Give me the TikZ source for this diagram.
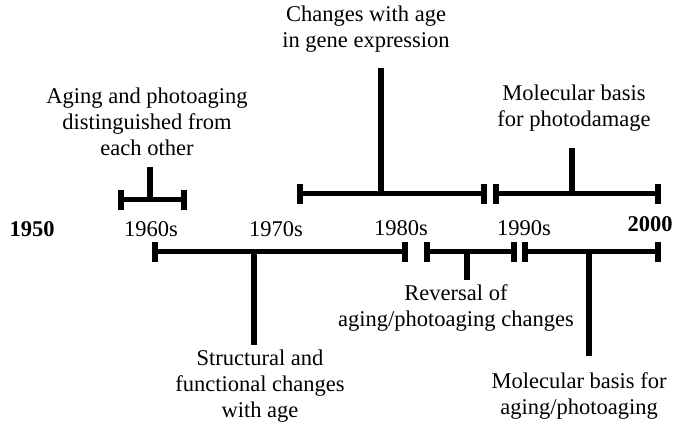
\documentclass[tikz,border=0pt]{standalone}
\usepackage{fontspec}
\setmainfont{Liberation Serif}
\begin{document}
\begin{tikzpicture}[x=1pt,y=-1pt,
  lbl/.style={font=\fontsize{22.5}{26}\selectfont, align=center, inner sep=0pt},
  yr/.style={font=\fontsize{22.5}{26}\selectfont, inner sep=0pt, anchor=base},
  yrb/.style={yr, font=\fontsize{22.5}{26}\selectfont\bfseries},
  barline/.style={line width=5pt},
  tickline/.style={line width=5.5pt},
  stemline/.style={line width=6pt}]
\useasboundingbox (0,0) rectangle (677,427);

% year labels
\node[yrb] (y1950) at (32,237) {1950};
\node[yr]  (y1960) at (151,237) {1960s};
\node[yr]  (y1970) at (276,237) {1970s};
\node[yr]  (y1980) at (401,236) {1980s};
\node[yr]  (y1990) at (524,236) {1990s};
\node[yrb] (y2000) at (650,232) {2000};

% event labels
\node[lbl] (tA) at (147,122.3) {Aging and photoaging\\distinguished from\\each other};
\node[lbl] (tB) at (366,28.8) {Changes with age\\in gene expression};
\node[lbl] (tC) at (574,107.7) {Molecular basis\\for photodamage};
\node[lbl] (tD) at (260,385.8) {Structural and\\functional changes\\with age};
\node[lbl] (tE) at (456,307.7) {Reversal of\\aging/photoaging changes};
\node[lbl] (tF) at (579,395.7) {Molecular basis for\\aging/photoaging};

% bracket coordinates
\coordinate (b1l) at (121,200); \coordinate (b1r) at (184,200);
\coordinate (b1s) at (150,200); \coordinate (b1t) at (150,167);
\coordinate (b2l) at (300,194); \coordinate (b2r) at (484,194);
\coordinate (b2s) at (381,194); \coordinate (b2t) at (381,68);
\coordinate (b3l) at (496,194); \coordinate (b3r) at (658,194);
\coordinate (b3s) at (572,194); \coordinate (b3t) at (572,148);
\coordinate (b4l) at (155,252); \coordinate (b4r) at (405,252);
\coordinate (b4s) at (254,252); \coordinate (b4t) at (254,345);
\coordinate (b5l) at (427,252); \coordinate (b5r) at (514,252);
\coordinate (b5s) at (467,252); \coordinate (b5t) at (467,280);
\coordinate (b6l) at (525,252); \coordinate (b6r) at (658,252);
\coordinate (b6s) at (589,252); \coordinate (b6t) at (589,356);

% bars
\foreach \b in {b1,b2,b3,b4,b5,b6}{
  \draw[barline] (\b l) -- (\b r);
  \draw[tickline] ([yshift=10pt]\b l) -- ([yshift=-10pt]\b l);
  \draw[tickline] ([yshift=10pt]\b r) -- ([yshift=-10pt]\b r);
  \draw[stemline] (\b t) -- (\b s);
}
\end{tikzpicture}
\end{document}
